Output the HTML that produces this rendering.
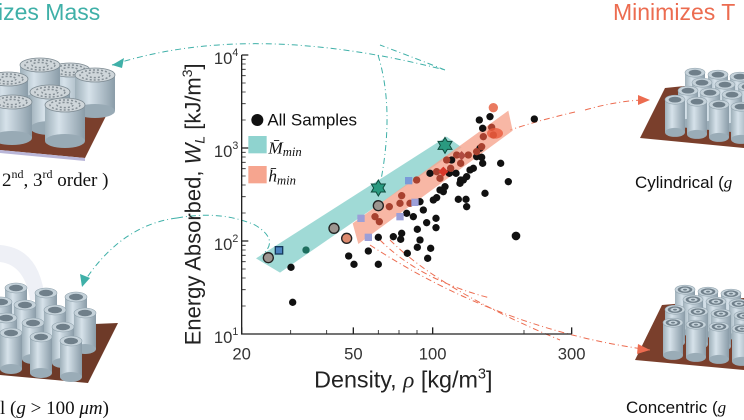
<!DOCTYPE html>
<html><head><meta charset="utf-8"><style>
html,body{margin:0;padding:0;background:#fff;width:744px;height:420px;overflow:hidden}
svg{display:block}
text{font-family:"Liberation Sans",sans-serif}
.serif{font-family:"Liberation Serif",serif}
</style></head><body>
<svg width="744" height="420" viewBox="0 0 744 420" xmlns="http://www.w3.org/2000/svg">
<defs>
<linearGradient id="cyl" x1="0" x2="1" y1="0" y2="0">
<stop offset="0" stop-color="#9fb0ba"/><stop offset="0.35" stop-color="#d6e2ea"/><stop offset="1" stop-color="#8a9ca8"/>
</linearGradient>
<symbol id="tube" viewBox="0 0 22 46" overflow="visible">
<rect x="0" y="5" width="22" height="36" fill="url(#cyl)"/>
<ellipse cx="11" cy="41" rx="11" ry="5" fill="#9aacb7"/>
<ellipse cx="11" cy="5" rx="11" ry="5" fill="#c5d2da" stroke="#8ea0ab" stroke-width="0.6"/>
<ellipse cx="11" cy="5" rx="7" ry="3.2" fill="#6f7f8a"/>
</symbol>
<symbol id="conc" viewBox="0 0 22 46" overflow="visible">
<rect x="0" y="5" width="22" height="36" fill="url(#cyl)"/>
<ellipse cx="11" cy="41" rx="11" ry="5" fill="#9aacb7"/>
<ellipse cx="11" cy="5" rx="11" ry="5" fill="#c5d2da" stroke="#8ea0ab" stroke-width="0.6"/>
<ellipse cx="11" cy="5" rx="8" ry="3.6" fill="#6f7f8a"/>
<ellipse cx="11" cy="5" rx="5" ry="2.2" fill="#c5d2da"/>
<ellipse cx="11" cy="5" rx="2.2" ry="1" fill="#6f7f8a"/>
</symbol>
<symbol id="big" viewBox="0 0 40 50" overflow="visible">
<rect x="0" y="7" width="40" height="36" fill="url(#cyl)"/>
<ellipse cx="20" cy="43" rx="20" ry="7" fill="#98aab5"/>
<ellipse cx="20" cy="7" rx="20" ry="7" fill="#cfd6da" stroke="#7d8a92" stroke-width="0.8"/>
<ellipse cx="20" cy="7" rx="15" ry="5" fill="none" stroke="#858f96" stroke-width="1.5" stroke-dasharray="2 2"/>
<ellipse cx="20" cy="7" rx="8" ry="2.6" fill="none" stroke="#858f96" stroke-width="1.5" stroke-dasharray="2 2"/>
</symbol>
</defs>

<text x="-2" y="20" font-size="23" fill="#3fb0a8">izes Mass</text>
<text x="613" y="20" font-size="23" fill="#ec6c50">Minimizes T</text>

<!-- top-left block -->
<polygon points="0,120 113,102 85,158 0,150" fill="#7a3f2c"/>
<polygon points="0,150 85,158 85,161 0,153" fill="#b9b6d8"/>
<use href="#big" x="50" y="63" width="40" height="50"/>
<use href="#big" x="75" y="68" width="40" height="50"/>
<use href="#big" x="20" y="58" width="40" height="50"/>
<use href="#big" x="-12" y="72" width="40" height="50"/>
<use href="#big" x="30" y="85" width="40" height="50"/>
<use href="#big" x="-8" y="95" width="40" height="50"/>
<use href="#big" x="45" y="98" width="40" height="50"/>
<text x="2" y="186" font-size="19" class="serif" fill="#111">2<tspan font-size="12" dy="-8">nd</tspan><tspan dy="8">, 3</tspan><tspan font-size="12" dy="-8">rd</tspan><tspan dy="8"> order )</tspan></text>

<!-- bottom-left block -->
<path d="M0,245 Q40,248 45,300 L30,300 Q25,265 0,262 Z" fill="#eef0f6"/>
<polygon points="0,328 118,323 88,383 0,375" fill="#6e3a28"/>
<g>
<use href="#tube" x="5" y="283" width="22" height="46"/>
<use href="#tube" x="35" y="288" width="22" height="46"/>
<use href="#tube" x="65" y="292" width="22" height="46"/>
<use href="#tube" x="-10" y="297" width="22" height="46"/>
<use href="#tube" x="14" y="300" width="22" height="46"/>
<use href="#tube" x="44" y="305" width="22" height="46"/>
<use href="#tube" x="74" y="308" width="22" height="46"/>
<use href="#tube" x="-5" y="313" width="22" height="46"/>
<use href="#tube" x="22" y="318" width="22" height="46"/>
<use href="#tube" x="52" y="322" width="22" height="46"/>
<use href="#tube" x="0" y="328" width="22" height="46"/>
<use href="#tube" x="30" y="332" width="22" height="46"/>
<use href="#tube" x="60" y="336" width="22" height="46"/>
</g>
<text x="0" y="414" font-size="19" class="serif" font-style="italic" fill="#111"><tspan font-style="normal">l (</tspan>g <tspan font-style="normal">&gt; 100 </tspan>μm<tspan font-style="normal">)</tspan></text>

<!-- top-right block -->
<polygon points="665,88 744,80 744,148 640,138" fill="#7a3f2c"/>
<g>
<use href="#tube" x="685" y="68" width="20" height="42"/>
<use href="#tube" x="708" y="70" width="20" height="42"/>
<use href="#tube" x="730" y="72" width="20" height="42"/>
<use href="#tube" x="692" y="78" width="20" height="42"/>
<use href="#tube" x="715" y="80" width="20" height="42"/>
<use href="#tube" x="738" y="82" width="20" height="42"/>
<use href="#tube" x="678" y="86" width="20" height="42"/>
<use href="#tube" x="700" y="88" width="20" height="42"/>
<use href="#tube" x="722" y="90" width="20" height="42"/>
<use href="#tube" x="665" y="95" width="20" height="42"/>
<use href="#tube" x="687" y="97" width="20" height="42"/>
<use href="#tube" x="709" y="100" width="20" height="42"/>
<use href="#tube" x="731" y="102" width="20" height="42"/>
</g>
<text x="635" y="188" font-size="17" fill="#111">Cylindrical (<tspan class="serif" font-style="italic">g</tspan></text>

<!-- bottom-right block -->
<polygon points="662,305 744,298 744,370 635,360" fill="#7a3f2c"/>
<g>
<use href="#conc" x="675" y="285" width="20" height="42"/>
<use href="#conc" x="698" y="287" width="20" height="42"/>
<use href="#conc" x="721" y="289" width="20" height="42"/>
<use href="#conc" x="683" y="295" width="20" height="42"/>
<use href="#conc" x="706" y="297" width="20" height="42"/>
<use href="#conc" x="729" y="299" width="20" height="42"/>
<use href="#conc" x="665" y="305" width="20" height="42"/>
<use href="#conc" x="688" y="307" width="20" height="42"/>
<use href="#conc" x="711" y="309" width="20" height="42"/>
<use href="#conc" x="734" y="311" width="20" height="42"/>
<use href="#conc" x="663" y="318" width="20" height="42"/>
<use href="#conc" x="686" y="320" width="20" height="42"/>
<use href="#conc" x="709" y="322" width="20" height="42"/>
<use href="#conc" x="732" y="324" width="20" height="42"/>
</g>
<text x="626" y="413" font-size="17" fill="#111">Concentric (<tspan class="serif" font-style="italic">g</tspan></text>

<g fill="none" stroke-width="1" stroke-dasharray="6 3 1 3">
<path d="M112,65 Q250,20 445,70" stroke="#3fb0a8"/>
<path d="M445,70 Q420,60 380,45" stroke="#3fb0a8"/>
<path d="M378,55 Q395,110 380,185" stroke="#3fb0a8"/>
<path d="M177,218 Q120,225 82,285" stroke="#3fb0a8"/>
<path d="M177,218 Q220,210 255,225 Q280,240 262,255" stroke="#3fb0a8"/>
<path d="M585,110 Q620,100 648,100" stroke="#ec6c50"/>
<path d="M575,112 Q540,120 510,130" stroke="#ec6c50"/>
<path d="M380,240 Q420,280 490,298" stroke="#ec6c50"/>
<path d="M370,245 Q500,330 650,350" stroke="#ec6c50"/>
<path d="M390,240 Q440,290 560,340" stroke="#ec6c50"/>
</g>
<polygon points="112,65 124,58 122,68" fill="#3fb0a8"/>
<polygon points="82,287 80,274 90,278" fill="#3fb0a8"/>
<polygon points="650,100 638,95 638,105" fill="#ec6c50"/>
<polygon points="650,350 638,344 637,354" fill="#ec6c50"/>

<g transform="translate(180,40) scale(0.33333)">
<polygon points="228,655 300,698 845,322 800,290" fill="#8fd3cf" opacity="0.85"/>
<polygon points="518,550 535,612 998,272 985,212" fill="#f6a58f" opacity="0.8"/>
<g fill="#111">
<circle cx="333" cy="682" r="11"/><circle cx="338" cy="787" r="11"/><circle cx="506" cy="648" r="11"/><circle cx="522" cy="673" r="11"/><circle cx="565" cy="633" r="11"/><circle cx="595" cy="592" r="11"/><circle cx="595" cy="673" r="11"/><circle cx="665" cy="580" r="11"/><circle cx="662" cy="598" r="11"/><circle cx="682" cy="640" r="11"/><circle cx="712" cy="622" r="11"/><circle cx="712" cy="568" r="11"/><circle cx="740" cy="548" r="11"/><circle cx="752" cy="625" r="11"/><circle cx="743" cy="655" r="11"/><circle cx="768" cy="535" r="11"/><circle cx="768" cy="563" r="11"/><circle cx="770" cy="473" r="11"/><circle cx="780" cy="450" r="11"/><circle cx="790" cy="455" r="11"/><circle cx="795" cy="440" r="11"/><circle cx="835" cy="478" r="11"/><circle cx="840" cy="430" r="11"/><circle cx="842" cy="420" r="11"/><circle cx="858" cy="478" r="11"/><circle cx="860" cy="500" r="11"/><circle cx="860" cy="410" r="11"/><circle cx="870" cy="390" r="11"/><circle cx="880" cy="385" r="11"/><circle cx="890" cy="350" r="11"/><circle cx="900" cy="325" r="11"/><circle cx="898" cy="240" r="11"/><circle cx="905" cy="352" r="11"/><circle cx="908" cy="370" r="11"/><circle cx="915" cy="460" r="11"/><circle cx="930" cy="230" r="11"/><circle cx="908" cy="265" r="11"/><circle cx="985" cy="425" r="11"/><circle cx="962" cy="370" r="11"/><circle cx="1008" cy="588" r="13"/><circle cx="1063" cy="237" r="11"/><circle cx="720" cy="485" r="11"/><circle cx="750" cy="400" r="11"/><circle cx="808" cy="400" r="11"/><circle cx="828" cy="400" r="11"/><circle cx="850" cy="420" r="11"/><circle cx="815" cy="360" r="11"/><circle cx="760" cy="480" r="11"/><circle cx="720" cy="600" r="11"/><circle cx="640" cy="590" r="11"/><circle cx="700" cy="530" r="11"/><circle cx="730" cy="510" r="11"/><circle cx="680" cy="520" r="11"/>
</g>
<g fill="#a8412f">
<circle cx="585" cy="530" r="11"/><circle cx="598" cy="545" r="11"/><circle cx="628" cy="500" r="11"/><circle cx="665" cy="467" r="11"/><circle cx="690" cy="490" r="11"/><circle cx="660" cy="490" r="11"/><circle cx="710" cy="420" r="11"/><circle cx="780" cy="415" r="11"/><circle cx="812" cy="385" r="11"/><circle cx="842" cy="370" r="11"/><circle cx="865" cy="345" r="11"/><circle cx="890" cy="335" r="11"/><circle cx="905" cy="320" r="11"/><circle cx="910" cy="290" r="11"/><circle cx="935" cy="262" r="11"/><circle cx="940" cy="285" r="11"/><circle cx="800" cy="360" r="11"/><circle cx="830" cy="345" r="11"/><circle cx="770" cy="395" r="11"/>
</g>
<circle cx="378" cy="630" r="11" fill="#1e6e5e"/>
<ellipse cx="945" cy="280" rx="24" ry="16" fill="#ea5a3c" opacity="0.8"/>
<polygon points="790,380 805,395 790,410 775,395" fill="#d9382a"/>
<polygon points="845,333 858,347 845,361 832,347" fill="#b04a40"/>
<circle cx="940" cy="203" r="14" fill="#ea7a60"/>
<g fill="#9b9fd8">
<rect x="675" y="411" width="22" height="22" fill="#7a9ad8"/>
<rect x="532" y="524" width="22" height="22"/>
<rect x="554" y="581" width="22" height="22"/>
<rect x="649" y="519" width="22" height="22"/>
<rect x="694" y="476" width="22" height="22"/>
</g>
<rect x="286" y="620" width="22" height="22" fill="#4b83c0" stroke="#163a5c" stroke-width="4"/>
<g stroke="#222" stroke-width="4">
<circle cx="265" cy="653" r="15" fill="#9c9590"/>
<circle cx="462" cy="565" r="15" fill="#9c9590"/>
<circle cx="595" cy="497" r="15" fill="#9c9590"/>
<circle cx="500" cy="595" r="15" fill="#dc8a6e"/>
</g>
<g fill="#2a9a80" stroke="#0e4a3c" stroke-width="3">
<polygon points="595,420 602,432 616,432 609,444 616,456 602,456 595,468 588,456 574,456 581,444 574,432 588,432"/>
<polygon points="795,292 802,304 816,304 809,316 816,328 802,328 795,340 788,328 774,328 781,316 774,304 788,304"/>
</g>
<g stroke="#222" stroke-width="4" fill="none">
<path d="M185,45 L185,882 L1175,882"/>
<path d="M185,45 l20,0 M185,324 l20,0 M185,603 l20,0 M185,882 l0,-20 M520,882 l0,-20 M758,882 l0,-20 M1175,882 l0,-20"/>
<g stroke-width="2.5">
<path d="M185,798 l12,0 M185,749 l12,0 M185,714 l12,0 M185,687 l12,0 M185,665 l12,0 M185,646 l12,0 M185,630 l12,0 M185,616 l12,0"/>
<path d="M185,519 l12,0 M185,470 l12,0 M185,435 l12,0 M185,408 l12,0 M185,386 l12,0 M185,367 l12,0 M185,351 l12,0 M185,337 l12,0"/>
<path d="M185,240 l12,0 M185,191 l12,0 M185,156 l12,0 M185,129 l12,0 M185,107 l12,0 M185,88 l12,0 M185,72 l12,0 M185,58 l12,0"/>
<path d="M332,882 l0,-12 M440,882 l0,-12 M595,882 l0,-12 M657,882 l0,-12 M711,882 l0,-12 M1032,882 l0,-12"/>
</g>
</g>
<g font-size="50" fill="#333">
<text x="175" y="72" text-anchor="end">10<tspan font-size="32" dy="-24">4</tspan></text>
<text x="175" y="351" text-anchor="end">10<tspan font-size="32" dy="-24">3</tspan></text>
<text x="175" y="630" text-anchor="end">10<tspan font-size="32" dy="-24">2</tspan></text>
<text x="175" y="909" text-anchor="end">10<tspan font-size="32" dy="-24">1</tspan></text>
<text x="185" y="958" text-anchor="middle">20</text>
<text x="520" y="958" text-anchor="middle">50</text>
<text x="758" y="958" text-anchor="middle">100</text>
<text x="1175" y="958" text-anchor="middle">300</text>
</g>
<text x="670" y="1042" font-size="70" fill="#222" text-anchor="middle">Density, <tspan class="serif" font-style="italic">ρ</tspan> [kg/m<tspan font-size="44" dy="-26">3</tspan><tspan dy="26">]</tspan></text>
<text transform="translate(62,493) rotate(-90)" font-size="66" fill="#222" text-anchor="middle">Energy Absorbed, <tspan font-style="italic">W<tspan font-size="42" dy="12">L</tspan></tspan><tspan dy="-12"> [kJ/m</tspan><tspan font-size="42" dy="-26">3</tspan><tspan dy="26">]</tspan></text>
<circle cx="232" cy="240" r="18" fill="#111"/>
<text x="262" y="257" font-size="51" fill="#111">All Samples</text>
<rect x="205" y="288" width="55" height="52" fill="#8fd3cf"/>
<text x="265" y="340" font-size="52" fill="#111" class="serif" font-style="italic">M̄<tspan font-size="38" dy="8">min</tspan></text>
<rect x="205" y="378" width="55" height="52" fill="#f6a58f"/>
<text x="265" y="425" font-size="52" fill="#111" class="serif" font-style="italic">h̄<tspan font-size="38" dy="8">min</tspan></text>
</g>
</svg>
</body></html>
